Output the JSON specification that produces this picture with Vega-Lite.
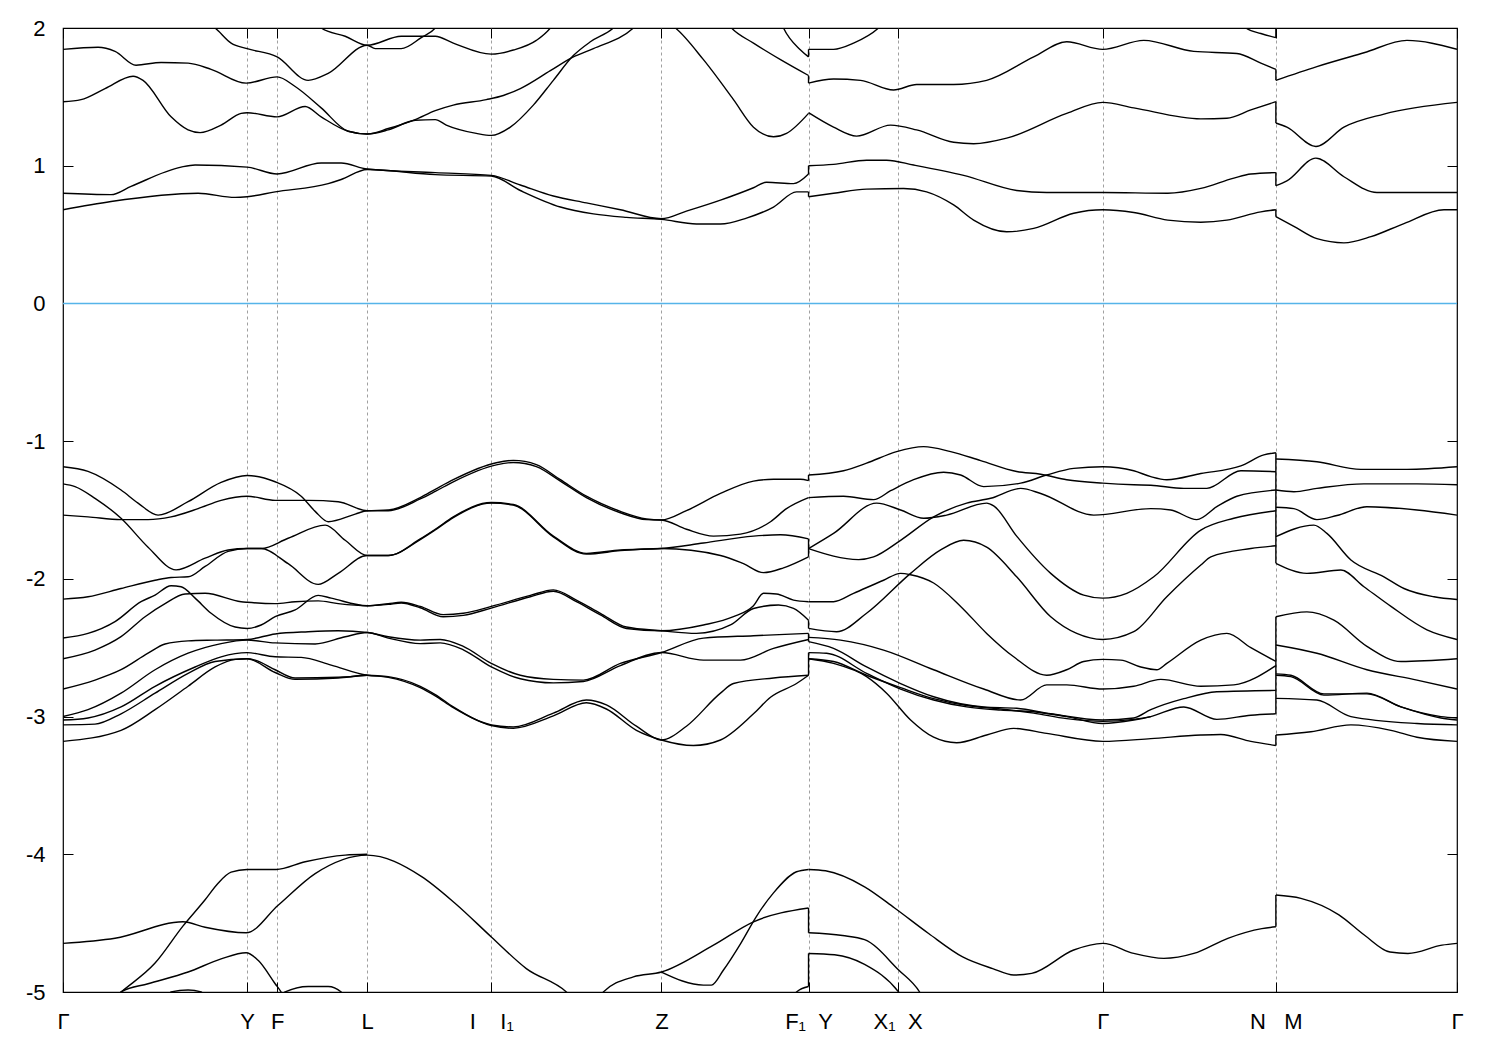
{
"$schema":"https://vega.github.io/schema/vega-lite/v6.json",
"width":1394,"height":964,
"autosize":{"type":"none"},
"padding":{"left":63,"top":28,"right":43,"bottom":58},
"background":"white",
"config":{"view":{"stroke":"black","strokeWidth":1.2},"axis":{"labelFont":"Liberation Sans Narrow, Liberation Sans","labelFontSize":22,"labelColor":"black","tickColor":"black","tickWidth":1,"domain":false}},
"datasets":{
"bands":[
{"s":"cA1","k":0,"e":0.68},{"s":"cA1","k":0.48,"e":0.74},{"s":"cA1","k":1.35,"e":0.80},{"s":"cA1","k":1.72,"e":0.77},{"s":"cA1","k":1.84,"e":0.775},{"s":"cA1","k":2.12,"e":0.81},{"s":"cA1","k":2.65,"e":0.87},{"s":"cA1","k":2.78,"e":0.90},{"s":"cA1","k":3.04,"e":0.972},{"s":"cA1","k":3.72,"e":0.935},{"s":"cA1","k":4.28,"e":0.925},{"s":"cA1","k":4.57,"e":0.82},{"s":"cA1","k":4.97,"e":0.70},{"s":"cA1","k":5.30,"e":0.65},{"s":"cA1","k":5.63,"e":0.625},{"s":"cA1","k":5.98,"e":0.61},{"s":"cA1","k":6.33,"e":0.577},{"s":"cA1","k":6.57,"e":0.577},{"s":"cA1","k":6.83,"e":0.62},{"s":"cA1","k":7.10,"e":0.70},{"s":"cA1","k":7.33,"e":0.81},{"s":"cA1","k":7.45,"e":0.81},
{"s":"cA2","k":0,"e":0.80},{"s":"cA2","k":0.48,"e":0.79},{"s":"cA2","k":0.68,"e":0.85},{"s":"cA2","k":1.18,"e":0.99},{"s":"cA2","k":1.32,"e":1.005},{"s":"cA2","k":1.84,"e":0.99},{"s":"cA2","k":2.14,"e":0.94},{"s":"cA2","k":2.58,"e":1.02},{"s":"cA2","k":2.78,"e":1.02},{"s":"cA2","k":3.04,"e":0.976},{"s":"cA2","k":3.72,"e":0.95},{"s":"cA2","k":4.28,"e":0.93},{"s":"cA2","k":4.57,"e":0.86},{"s":"cA2","k":4.90,"e":0.78},{"s":"cA2","k":5.23,"e":0.73},{"s":"cA2","k":5.57,"e":0.68},{"s":"cA2","k":5.98,"e":0.615},{"s":"cA2","k":6.23,"e":0.67},{"s":"cA2","k":6.57,"e":0.75},{"s":"cA2","k":6.90,"e":0.84},{"s":"cA2","k":7.03,"e":0.88},{"s":"cA2","k":7.30,"e":0.87},{"s":"cA2","k":7.45,"e":0.94},
{"s":"cA3","k":0,"e":1.465},{"s":"cA3","k":0.18,"e":1.48},{"s":"cA3","k":0.42,"e":1.56},{"s":"cA3","k":0.70,"e":1.65},{"s":"cA3","k":0.80,"e":1.62},{"s":"cA3","k":1.08,"e":1.355},{"s":"cA3","k":1.25,"e":1.26},{"s":"cA3","k":1.37,"e":1.24},{"s":"cA3","k":1.58,"e":1.295},{"s":"cA3","k":1.78,"e":1.38},{"s":"cA3","k":1.84,"e":1.385},{"s":"cA3","k":2.14,"e":1.355},{"s":"cA3","k":2.42,"e":1.43},{"s":"cA3","k":2.58,"e":1.355},{"s":"cA3","k":2.85,"e":1.25},{"s":"cA3","k":3.04,"e":1.23},{"s":"cA3","k":3.25,"e":1.26},{"s":"cA3","k":3.52,"e":1.33},{"s":"cA3","k":3.72,"e":1.335},{"s":"cA3","k":3.83,"e":1.295},{"s":"cA3","k":4.13,"e":1.235},{"s":"cA3","k":4.28,"e":1.22},{"s":"cA3","k":4.47,"e":1.28},{"s":"cA3","k":4.70,"e":1.44},{"s":"cA3","k":4.90,"e":1.62},{"s":"cA3","k":5.10,"e":1.80},{"s":"cA3","k":5.27,"e":1.90},{"s":"cA3","k":5.50,"e":2.0},{"s":"cA3","k":5.57,"e":2.05},
{"s":"cA4","k":0,"e":1.845},{"s":"cA4","k":0.35,"e":1.86},{"s":"cA4","k":0.52,"e":1.83},{"s":"cA4","k":0.73,"e":1.73},{"s":"cA4","k":0.98,"e":1.75},{"s":"cA4","k":1.25,"e":1.745},{"s":"cA4","k":1.48,"e":1.70},{"s":"cA4","k":1.83,"e":1.60},{"s":"cA4","k":2.14,"e":1.645},{"s":"cA4","k":2.32,"e":1.575},{"s":"cA4","k":2.58,"e":1.42},{"s":"cA4","k":2.85,"e":1.25},{"s":"cA4","k":3.04,"e":1.23},{"s":"cA4","k":3.25,"e":1.27},{"s":"cA4","k":3.52,"e":1.335},{"s":"cA4","k":3.72,"e":1.40},{"s":"cA4","k":3.90,"e":1.44},{"s":"cA4","k":4.23,"e":1.48},{"s":"cA4","k":4.40,"e":1.51},{"s":"cA4","k":4.57,"e":1.56},{"s":"cA4","k":4.87,"e":1.69},{"s":"cA4","k":5.10,"e":1.79},{"s":"cA4","k":5.30,"e":1.85},{"s":"cA4","k":5.70,"e":2.0},{"s":"cA4","k":5.77,"e":2.05},
{"s":"cA5","k":1.42,"e":2.05},{"s":"cA5","k":1.52,"e":2.0},{"s":"cA5","k":1.68,"e":1.89},{"s":"cA5","k":1.84,"e":1.85},{"s":"cA5","k":2.14,"e":1.79},{"s":"cA5","k":2.45,"e":1.62},{"s":"cA5","k":2.65,"e":1.67},{"s":"cA5","k":3.04,"e":1.875},{"s":"cA5","k":3.12,"e":1.85},{"s":"cA5","k":3.38,"e":1.85},{"s":"cA5","k":3.58,"e":1.93},{"s":"cA5","k":3.72,"e":2.0},{"s":"cA5","k":3.77,"e":2.05},
{"s":"cA6","k":2.52,"e":2.05},{"s":"cA6","k":2.58,"e":2.0},{"s":"cA6","k":2.82,"e":1.94},{"s":"cA6","k":3.04,"e":1.875},{"s":"cA6","k":3.38,"e":1.94},{"s":"cA6","k":3.72,"e":1.94},{"s":"cA6","k":3.90,"e":1.89},{"s":"cA6","k":4.28,"e":1.81},{"s":"cA6","k":4.50,"e":1.84},{"s":"cA6","k":4.73,"e":1.91},{"s":"cA6","k":4.87,"e":2.0},{"s":"cA6","k":4.92,"e":2.05},
{"s":"cA7","k":6.02,"e":2.05},{"s":"cA7","k":6.12,"e":2.0},{"s":"cA7","k":6.40,"e":1.77},{"s":"cA7","k":6.70,"e":1.48},{"s":"cA7","k":6.90,"e":1.28},{"s":"cA7","k":7.10,"e":1.21},{"s":"cA7","k":7.23,"e":1.235},{"s":"cA7","k":7.45,"e":1.38},
{"s":"cA8","k":6.62,"e":2.05},{"s":"cA8","k":6.68,"e":2.0},{"s":"cA8","k":6.90,"e":1.89},{"s":"cA8","k":7.17,"e":1.77},{"s":"cA8","k":7.45,"e":1.655},
{"s":"cA9","k":7.17,"e":2.05},{"s":"cA9","k":7.20,"e":2.0},{"s":"cA9","k":7.37,"e":1.84},{"s":"cA9","k":7.45,"e":1.79},
{"s":"cB1","k":7.45,"e":0.775},{"s":"cB1","k":7.70,"e":0.80},{"s":"cB1","k":8.03,"e":0.83},{"s":"cB1","k":8.40,"e":0.835},{"s":"cB1","k":8.63,"e":0.81},{"s":"cB1","k":8.90,"e":0.715},{"s":"cB1","k":9.10,"e":0.605},{"s":"cB1","k":9.43,"e":0.52},{"s":"cB1","k":9.70,"e":0.545},{"s":"cB1","k":10.10,"e":0.655},{"s":"cB1","k":10.39,"e":0.68},{"s":"cB1","k":10.70,"e":0.66},{"s":"cB1","k":11.04,"e":0.605},{"s":"cB1","k":11.37,"e":0.59},{"s":"cB1","k":11.63,"e":0.605},{"s":"cB1","k":11.97,"e":0.665},{"s":"cB1","k":12.12,"e":0.68},
{"s":"cB2","k":7.45,"e":1.00},{"s":"cB2","k":7.70,"e":1.01},{"s":"cB2","k":8.03,"e":1.04},{"s":"cB2","k":8.23,"e":1.04},{"s":"cB2","k":8.50,"e":1.005},{"s":"cB2","k":9.00,"e":0.93},{"s":"cB2","k":9.53,"e":0.82},{"s":"cB2","k":9.83,"e":0.805},{"s":"cB2","k":10.39,"e":0.805},{"s":"cB2","k":11.04,"e":0.80},{"s":"cB2","k":11.37,"e":0.835},{"s":"cB2","k":11.70,"e":0.91},{"s":"cB2","k":11.87,"e":0.94},{"s":"cB2","k":12.12,"e":0.95},
{"s":"cB3","k":7.45,"e":1.385},{"s":"cB3","k":7.70,"e":1.28},{"s":"cB3","k":7.93,"e":1.215},{"s":"cB3","k":8.27,"e":1.295},{"s":"cB3","k":8.53,"e":1.26},{"s":"cB3","k":8.90,"e":1.17},{"s":"cB3","k":9.10,"e":1.16},{"s":"cB3","k":9.43,"e":1.20},{"s":"cB3","k":10.03,"e":1.38},{"s":"cB3","k":10.39,"e":1.46},{"s":"cB3","k":10.70,"e":1.42},{"s":"cB3","k":11.37,"e":1.34},{"s":"cB3","k":11.63,"e":1.345},{"s":"cB3","k":11.87,"e":1.405},{"s":"cB3","k":12.12,"e":1.465},
{"s":"cB4","k":7.45,"e":1.60},{"s":"cB4","k":7.70,"e":1.63},{"s":"cB4","k":7.97,"e":1.62},{"s":"cB4","k":8.30,"e":1.55},{"s":"cB4","k":8.53,"e":1.59},{"s":"cB4","k":8.90,"e":1.59},{"s":"cB4","k":9.23,"e":1.62},{"s":"cB4","k":9.70,"e":1.79},{"s":"cB4","k":10.03,"e":1.90},{"s":"cB4","k":10.39,"e":1.845},{"s":"cB4","k":10.80,"e":1.91},{"s":"cB4","k":11.30,"e":1.83},{"s":"cB4","k":11.73,"e":1.815},{"s":"cB4","k":11.97,"e":1.745},{"s":"cB4","k":12.12,"e":1.70},
{"s":"cB5","k":7.45,"e":1.845},{"s":"cB5","k":7.70,"e":1.845},{"s":"cB5","k":7.90,"e":1.89},{"s":"cB5","k":8.15,"e":2.0},{"s":"cB5","k":8.22,"e":2.05},
{"s":"cB6","k":11.77,"e":2.05},{"s":"cB6","k":11.82,"e":2.0},{"s":"cB6","k":11.97,"e":1.96},{"s":"cB6","k":12.12,"e":1.93},
{"s":"cC1","k":12.12,"e":0.63},{"s":"cC1","k":12.30,"e":0.56},{"s":"cC1","k":12.53,"e":0.47},{"s":"cC1","k":12.80,"e":0.44},{"s":"cC1","k":13.07,"e":0.485},{"s":"cC1","k":13.40,"e":0.58},{"s":"cC1","k":13.80,"e":0.68},{"s":"cC1","k":13.93,"e":0.68},
{"s":"cC2","k":12.12,"e":0.855},{"s":"cC2","k":12.23,"e":0.89},{"s":"cC2","k":12.52,"e":1.055},{"s":"cC2","k":12.80,"e":0.92},{"s":"cC2","k":13.13,"e":0.805},{"s":"cC2","k":13.93,"e":0.805},
{"s":"cC3","k":12.12,"e":1.31},{"s":"cC3","k":12.23,"e":1.28},{"s":"cC3","k":12.52,"e":1.14},{"s":"cC3","k":12.80,"e":1.28},{"s":"cC3","k":13.20,"e":1.375},{"s":"cC3","k":13.93,"e":1.46},
{"s":"cC4","k":12.12,"e":1.62},{"s":"cC4","k":12.53,"e":1.72},{"s":"cC4","k":13.00,"e":1.82},{"s":"cC4","k":13.43,"e":1.91},{"s":"cC4","k":13.93,"e":1.845},
{"s":"vA1","k":0,"e":-1.186},{"s":"vA1","k":0.25,"e":-1.22},{"s":"vA1","k":0.58,"e":-1.355},{"s":"vA1","k":0.75,"e":-1.45},{"s":"vA1","k":0.95,"e":-1.537},{"s":"vA1","k":1.25,"e":-1.44},{"s":"vA1","k":1.58,"e":-1.30},{"s":"vA1","k":1.84,"e":-1.25},{"s":"vA1","k":2.12,"e":-1.295},{"s":"vA1","k":2.38,"e":-1.40},{"s":"vA1","k":2.52,"e":-1.51},{"s":"vA1","k":2.65,"e":-1.585},{"s":"vA1","k":2.92,"e":-1.53},{"s":"vA1","k":3.04,"e":-1.505},{"s":"vA1","k":3.25,"e":-1.50},{"s":"vA1","k":3.57,"e":-1.41},{"s":"vA1","k":3.72,"e":-1.35},{"s":"vA1","k":3.90,"e":-1.28},{"s":"vA1","k":4.33,"e":-1.157},{"s":"vA1","k":4.50,"e":-1.14},{"s":"vA1","k":4.73,"e":-1.17},{"s":"vA1","k":4.97,"e":-1.28},{"s":"vA1","k":5.23,"e":-1.40},{"s":"vA1","k":5.57,"e":-1.51},{"s":"vA1","k":5.83,"e":-1.565},{"s":"vA1","k":5.98,"e":-1.573},{"s":"vA1","k":6.23,"e":-1.505},{"s":"vA1","k":6.57,"e":-1.38},{"s":"vA1","k":6.90,"e":-1.29},{"s":"vA1","k":7.10,"e":-1.277},{"s":"vA1","k":7.37,"e":-1.277},{"s":"vA1","k":7.45,"e":-1.287},
{"s":"vA3","k":0,"e":-1.537},{"s":"vA3","k":0.25,"e":-1.55},{"s":"vA3","k":0.58,"e":-1.57},{"s":"vA3","k":0.85,"e":-1.57},{"s":"vA3","k":1.08,"e":-1.55},{"s":"vA3","k":1.35,"e":-1.49},{"s":"vA3","k":1.58,"e":-1.43},{"s":"vA3","k":1.84,"e":-1.40},{"s":"vA3","k":2.12,"e":-1.43},{"s":"vA3","k":2.45,"e":-1.43},{"s":"vA3","k":2.75,"e":-1.44},{"s":"vA3","k":3.04,"e":-1.505},{"s":"vA3","k":3.25,"e":-1.505},{"s":"vA3","k":3.57,"e":-1.42},{"s":"vA3","k":3.72,"e":-1.365},{"s":"vA3","k":3.90,"e":-1.295},{"s":"vA3","k":4.33,"e":-1.172},{"s":"vA3","k":4.50,"e":-1.155},{"s":"vA3","k":4.73,"e":-1.185},{"s":"vA3","k":4.97,"e":-1.29},{"s":"vA3","k":5.23,"e":-1.41},{"s":"vA3","k":5.57,"e":-1.52},{"s":"vA3","k":5.83,"e":-1.57},{"s":"vA3","k":5.98,"e":-1.573},{"s":"vA3","k":6.23,"e":-1.64},{"s":"vA3","k":6.50,"e":-1.69},{"s":"vA3","k":6.77,"e":-1.675},{"s":"vA3","k":7.07,"e":-1.585},{"s":"vA3","k":7.23,"e":-1.49},{"s":"vA3","k":7.45,"e":-1.41},
{"s":"vA2","k":0,"e":-1.31},{"s":"vA2","k":0.12,"e":-1.33},{"s":"vA2","k":0.32,"e":-1.415},{"s":"vA2","k":0.58,"e":-1.56},{"s":"vA2","k":0.85,"e":-1.77},{"s":"vA2","k":1.13,"e":-1.935},{"s":"vA2","k":1.42,"e":-1.85},{"s":"vA2","k":1.65,"e":-1.79},{"s":"vA2","k":1.84,"e":-1.78},{"s":"vA2","k":1.98,"e":-1.78},{"s":"vA2","k":2.25,"e":-1.89},{"s":"vA2","k":2.55,"e":-2.04},{"s":"vA2","k":2.75,"e":-1.96},{"s":"vA2","k":3.04,"e":-1.83},{"s":"vA2","k":3.25,"e":-1.83},{"s":"vA2","k":3.57,"e":-1.71},{"s":"vA2","k":3.72,"e":-1.64},{"s":"vA2","k":3.90,"e":-1.55},{"s":"vA2","k":4.28,"e":-1.445},{"s":"vA2","k":4.50,"e":-1.46},{"s":"vA2","k":4.90,"e":-1.69},{"s":"vA2","k":5.23,"e":-1.815},{"s":"vA2","k":5.57,"e":-1.79},{"s":"vA2","k":5.98,"e":-1.78},{"s":"vA2","k":6.40,"e":-1.74},{"s":"vA2","k":6.90,"e":-1.69},{"s":"vA2","k":7.17,"e":-1.68},{"s":"vA2","k":7.45,"e":-1.71},
{"s":"vA4","k":0,"e":-2.147},{"s":"vA4","k":0.25,"e":-2.13},{"s":"vA4","k":0.58,"e":-2.07},{"s":"vA4","k":0.92,"e":-2.01},{"s":"vA4","k":1.08,"e":-1.99},{"s":"vA4","k":1.25,"e":-1.985},{"s":"vA4","k":1.42,"e":-1.91},{"s":"vA4","k":1.65,"e":-1.80},{"s":"vA4","k":1.84,"e":-1.78},{"s":"vA4","k":1.98,"e":-1.78},{"s":"vA4","k":2.25,"e":-1.705},{"s":"vA4","k":2.62,"e":-1.61},{"s":"vA4","k":2.82,"e":-1.72},{"s":"vA4","k":3.04,"e":-1.83},{"s":"vA4","k":3.25,"e":-1.83},{"s":"vA4","k":3.57,"e":-1.715},{"s":"vA4","k":3.72,"e":-1.645},{"s":"vA4","k":3.90,"e":-1.555},{"s":"vA4","k":4.28,"e":-1.45},{"s":"vA4","k":4.50,"e":-1.465},{"s":"vA4","k":4.90,"e":-1.695},{"s":"vA4","k":5.23,"e":-1.82},{"s":"vA4","k":5.57,"e":-1.795},{"s":"vA4","k":5.98,"e":-1.78},{"s":"vA4","k":6.57,"e":-1.83},{"s":"vA4","k":6.80,"e":-1.89},{"s":"vA4","k":7.00,"e":-1.955},{"s":"vA4","k":7.20,"e":-1.92},{"s":"vA4","k":7.45,"e":-1.84},
{"s":"vA5","k":0,"e":-2.43},{"s":"vA5","k":0.25,"e":-2.396},{"s":"vA5","k":0.52,"e":-2.31},{"s":"vA5","k":0.78,"e":-2.166},{"s":"vA5","k":0.92,"e":-2.118},{"s":"vA5","k":1.08,"e":-2.05},{"s":"vA5","k":1.18,"e":-2.057},{"s":"vA5","k":1.32,"e":-2.14},{"s":"vA5","k":1.48,"e":-2.25},{"s":"vA5","k":1.72,"e":-2.35},{"s":"vA5","k":1.84,"e":-2.36},{"s":"vA5","k":1.98,"e":-2.335},{"s":"vA5","k":2.12,"e":-2.275},{"s":"vA5","k":2.32,"e":-2.226},{"s":"vA5","k":2.55,"e":-2.12},{"s":"vA5","k":2.68,"e":-2.14},{"s":"vA5","k":3.04,"e":-2.195},{"s":"vA5","k":3.25,"e":-2.18},{"s":"vA5","k":3.38,"e":-2.17},{"s":"vA5","k":3.57,"e":-2.20},{"s":"vA5","k":3.80,"e":-2.26},{"s":"vA5","k":4.00,"e":-2.25},{"s":"vA5","k":4.28,"e":-2.20},{"s":"vA5","k":4.67,"e":-2.12},{"s":"vA5","k":4.90,"e":-2.08},{"s":"vA5","k":5.13,"e":-2.154},{"s":"vA5","k":5.37,"e":-2.25},{"s":"vA5","k":5.63,"e":-2.35},{"s":"vA5","k":5.98,"e":-2.377},{"s":"vA5","k":6.33,"e":-2.396},{"s":"vA5","k":6.67,"e":-2.335},{"s":"vA5","k":6.90,"e":-2.215},{"s":"vA5","k":7.15,"e":-2.19},{"s":"vA5","k":7.30,"e":-2.215},{"s":"vA5","k":7.45,"e":-2.30},
{"s":"vA6","k":0,"e":-2.58},{"s":"vA6","k":0.32,"e":-2.517},{"s":"vA6","k":0.58,"e":-2.42},{"s":"vA6","k":0.82,"e":-2.275},{"s":"vA6","k":1.02,"e":-2.18},{"s":"vA6","k":1.22,"e":-2.11},{"s":"vA6","k":1.42,"e":-2.105},{"s":"vA6","k":1.78,"e":-2.166},{"s":"vA6","k":1.84,"e":-2.17},{"s":"vA6","k":2.12,"e":-2.18},{"s":"vA6","k":2.32,"e":-2.166},{"s":"vA6","k":2.55,"e":-2.16},{"s":"vA6","k":2.75,"e":-2.18},{"s":"vA6","k":3.04,"e":-2.195},{"s":"vA6","k":3.25,"e":-2.185},{"s":"vA6","k":3.38,"e":-2.175},{"s":"vA6","k":3.57,"e":-2.21},{"s":"vA6","k":3.80,"e":-2.275},{"s":"vA6","k":4.00,"e":-2.265},{"s":"vA6","k":4.28,"e":-2.212},{"s":"vA6","k":4.67,"e":-2.13},{"s":"vA6","k":4.90,"e":-2.09},{"s":"vA6","k":5.13,"e":-2.165},{"s":"vA6","k":5.37,"e":-2.262},{"s":"vA6","k":5.63,"e":-2.36},{"s":"vA6","k":5.98,"e":-2.377},{"s":"vA6","k":6.40,"e":-2.335},{"s":"vA6","k":6.70,"e":-2.275},{"s":"vA6","k":6.90,"e":-2.195},{"s":"vA6","k":7.00,"e":-2.105},{"s":"vA6","k":7.13,"e":-2.11},{"s":"vA6","k":7.30,"e":-2.154},{"s":"vA6","k":7.45,"e":-2.166},
{"s":"vA7","k":0,"e":-2.80},{"s":"vA7","k":0.32,"e":-2.735},{"s":"vA7","k":0.58,"e":-2.66},{"s":"vA7","k":0.85,"e":-2.54},{"s":"vA7","k":1.02,"e":-2.473},{"s":"vA7","k":1.25,"e":-2.45},{"s":"vA7","k":1.52,"e":-2.445},{"s":"vA7","k":1.84,"e":-2.44},{"s":"vA7","k":2.12,"e":-2.40},{"s":"vA7","k":2.45,"e":-2.384},{"s":"vA7","k":2.75,"e":-2.377},{"s":"vA7","k":3.04,"e":-2.39},{"s":"vA7","k":3.25,"e":-2.42},{"s":"vA7","k":3.57,"e":-2.445},{"s":"vA7","k":3.77,"e":-2.44},{"s":"vA7","k":4.00,"e":-2.49},{"s":"vA7","k":4.28,"e":-2.614},{"s":"vA7","k":4.57,"e":-2.70},{"s":"vA7","k":4.90,"e":-2.73},{"s":"vA7","k":5.20,"e":-2.735},{"s":"vA7","k":5.57,"e":-2.614},{"s":"vA7","k":5.98,"e":-2.535},{"s":"vA7","k":6.40,"e":-2.43},{"s":"vA7","k":6.90,"e":-2.413},{"s":"vA7","k":7.45,"e":-2.396},
{"s":"vA8","k":0,"e":-3.00},{"s":"vA8","k":0.25,"e":-2.95},{"s":"vA8","k":0.58,"e":-2.83},{"s":"vA8","k":0.92,"e":-2.66},{"s":"vA8","k":1.25,"e":-2.54},{"s":"vA8","k":1.58,"e":-2.47},{"s":"vA8","k":1.84,"e":-2.445},{"s":"vA8","k":2.12,"e":-2.465},{"s":"vA8","k":2.52,"e":-2.473},{"s":"vA8","k":2.82,"e":-2.42},{"s":"vA8","k":3.04,"e":-2.39},{"s":"vA8","k":3.25,"e":-2.43},{"s":"vA8","k":3.57,"e":-2.47},{"s":"vA8","k":3.77,"e":-2.465},{"s":"vA8","k":4.00,"e":-2.515},{"s":"vA8","k":4.28,"e":-2.64},{"s":"vA8","k":4.57,"e":-2.725},{"s":"vA8","k":4.90,"e":-2.755},{"s":"vA8","k":5.20,"e":-2.745},{"s":"vA8","k":5.57,"e":-2.63},{"s":"vA8","k":5.98,"e":-2.535},{"s":"vA8","k":6.40,"e":-2.59},{"s":"vA8","k":6.77,"e":-2.59},{"s":"vA8","k":7.10,"e":-2.505},{"s":"vA8","k":7.45,"e":-2.44},
{"s":"vA9","k":0,"e":-3.025},{"s":"vA9","k":0.25,"e":-3.01},{"s":"vA9","k":0.58,"e":-2.93},{"s":"vA9","k":0.92,"e":-2.78},{"s":"vA9","k":1.32,"e":-2.64},{"s":"vA9","k":1.58,"e":-2.566},{"s":"vA9","k":1.84,"e":-2.536},{"s":"vA9","k":2.12,"e":-2.566},{"s":"vA9","k":2.38,"e":-2.57},{"s":"vA9","k":2.68,"e":-2.626},{"s":"vA9","k":3.04,"e":-2.70},{"s":"vA9","k":3.25,"e":-2.71},{"s":"vA9","k":3.57,"e":-2.78},{"s":"vA9","k":3.72,"e":-2.84},{"s":"vA9","k":3.90,"e":-2.93},{"s":"vA9","k":4.28,"e":-3.06},{"s":"vA9","k":4.50,"e":-3.075},{"s":"vA9","k":4.90,"e":-2.975},{"s":"vA9","k":5.23,"e":-2.88},{"s":"vA9","k":5.43,"e":-2.915},{"s":"vA9","k":5.73,"e":-3.07},{"s":"vA9","k":5.98,"e":-3.17},{"s":"vA9","k":6.23,"e":-3.07},{"s":"vA9","k":6.57,"e":-2.83},{"s":"vA9","k":6.70,"e":-2.76},{"s":"vA9","k":7.10,"e":-2.72},{"s":"vA9","k":7.45,"e":-2.70},
{"s":"vA10","k":0,"e":-3.06},{"s":"vA10","k":0.32,"e":-3.055},{"s":"vA10","k":0.58,"e":-2.98},{"s":"vA10","k":0.92,"e":-2.83},{"s":"vA10","k":1.25,"e":-2.686},{"s":"vA10","k":1.52,"e":-2.60},{"s":"vA10","k":1.84,"e":-2.58},{"s":"vA10","k":2.12,"e":-2.68},{"s":"vA10","k":2.32,"e":-2.73},{"s":"vA10","k":2.75,"e":-2.72},{"s":"vA10","k":3.04,"e":-2.70},{"s":"vA10","k":3.25,"e":-2.715},{"s":"vA10","k":3.57,"e":-2.79},{"s":"vA10","k":3.72,"e":-2.85},{"s":"vA10","k":3.90,"e":-2.935},{"s":"vA10","k":4.28,"e":-3.065},{"s":"vA10","k":4.50,"e":-3.085},{"s":"vA10","k":4.90,"e":-2.995},{"s":"vA10","k":5.23,"e":-2.90},{"s":"vA10","k":5.43,"e":-2.945},{"s":"vA10","k":5.73,"e":-3.10},{"s":"vA10","k":5.98,"e":-3.17},{"s":"vA10","k":6.30,"e":-3.21},{"s":"vA10","k":6.57,"e":-3.17},{"s":"vA10","k":6.90,"e":-2.98},{"s":"vA10","k":7.07,"e":-2.86},{"s":"vA10","k":7.33,"e":-2.76},{"s":"vA10","k":7.45,"e":-2.70},
{"s":"vA11","k":0,"e":-3.18},{"s":"vA11","k":0.58,"e":-3.10},{"s":"vA11","k":0.92,"e":-2.95},{"s":"vA11","k":1.25,"e":-2.78},{"s":"vA11","k":1.52,"e":-2.64},{"s":"vA11","k":1.72,"e":-2.585},{"s":"vA11","k":1.84,"e":-2.58},{"s":"vA11","k":1.92,"e":-2.59},{"s":"vA11","k":2.12,"e":-2.66},{"s":"vA11","k":2.32,"e":-2.72},{"s":"vA11","k":2.75,"e":-2.715},{"s":"vA11","k":3.04,"e":-2.70},
{"s":"vB1","k":7.45,"e":-1.246},{"s":"vB1","k":7.80,"e":-1.215},{"s":"vB1","k":8.03,"e":-1.16},{"s":"vB1","k":8.33,"e":-1.076},{"s":"vB1","k":8.60,"e":-1.04},{"s":"vB1","k":8.87,"e":-1.076},{"s":"vB1","k":9.17,"e":-1.141},{"s":"vB1","k":9.53,"e":-1.22},{"s":"vB1","k":9.77,"e":-1.24},{"s":"vB1","k":10.03,"e":-1.28},{"s":"vB1","k":10.39,"e":-1.305},{"s":"vB1","k":10.70,"e":-1.317},{"s":"vB1","k":10.87,"e":-1.32},{"s":"vB1","k":11.20,"e":-1.343},{"s":"vB1","k":11.43,"e":-1.343},{"s":"vB1","k":11.77,"e":-1.215},{"s":"vB1","k":12.12,"e":-1.222},
{"s":"vB2","k":7.45,"e":-1.41},{"s":"vB2","k":7.80,"e":-1.40},{"s":"vB2","k":8.10,"e":-1.425},{"s":"vB2","k":8.27,"e":-1.36},{"s":"vB2","k":8.50,"e":-1.28},{"s":"vB2","k":8.80,"e":-1.226},{"s":"vB2","k":8.97,"e":-1.246},{"s":"vB2","k":9.20,"e":-1.33},{"s":"vB2","k":9.57,"e":-1.305},{"s":"vB2","k":9.83,"e":-1.246},{"s":"vB2","k":10.10,"e":-1.198},{"s":"vB2","k":10.39,"e":-1.186},{"s":"vB2","k":10.70,"e":-1.215},{"s":"vB2","k":10.87,"e":-1.258},{"s":"vB2","k":11.03,"e":-1.28},{"s":"vB2","k":11.37,"e":-1.235},{"s":"vB2","k":11.77,"e":-1.18},{"s":"vB2","k":12.00,"e":-1.10},{"s":"vB2","k":12.12,"e":-1.084},
{"s":"vB3","k":7.45,"e":-1.78},{"s":"vB3","k":7.70,"e":-1.67},{"s":"vB3","k":8.13,"e":-1.45},{"s":"vB3","k":8.37,"e":-1.50},{"s":"vB3","k":8.60,"e":-1.56},{"s":"vB3","k":8.83,"e":-1.537},{"s":"vB3","k":9.23,"e":-1.45},{"s":"vB3","k":9.30,"e":-1.47},{"s":"vB3","k":9.53,"e":-1.69},{"s":"vB3","k":9.87,"e":-1.96},{"s":"vB3","k":10.20,"e":-2.118},{"s":"vB3","k":10.39,"e":-2.14},{"s":"vB3","k":10.63,"e":-2.105},{"s":"vB3","k":10.90,"e":-1.985},{"s":"vB3","k":11.37,"e":-1.646},{"s":"vB3","k":11.70,"e":-1.56},{"s":"vB3","k":12.12,"e":-1.505},
{"s":"vB4","k":7.45,"e":-1.78},{"s":"vB4","k":7.95,"e":-1.86},{"s":"vB4","k":8.10,"e":-1.84},{"s":"vB4","k":8.37,"e":-1.72},{"s":"vB4","k":8.70,"e":-1.55},{"s":"vB4","k":9.03,"e":-1.45},{"s":"vB4","k":9.27,"e":-1.415},{"s":"vB4","k":9.57,"e":-1.343},{"s":"vB4","k":9.77,"e":-1.38},{"s":"vB4","k":10.30,"e":-1.537},{"s":"vB4","k":10.87,"e":-1.49},{"s":"vB4","k":11.07,"e":-1.50},{"s":"vB4","k":11.33,"e":-1.57},{"s":"vB4","k":11.53,"e":-1.476},{"s":"vB4","k":11.73,"e":-1.40},{"s":"vB4","k":12.12,"e":-1.355},
{"s":"vB5","k":7.45,"e":-2.166},{"s":"vB5","k":7.70,"e":-2.166},{"s":"vB5","k":7.90,"e":-2.105},{"s":"vB5","k":8.20,"e":-2.01},{"s":"vB5","k":8.37,"e":-1.96},{"s":"vB5","k":8.47,"e":-1.97},{"s":"vB5","k":8.70,"e":-2.03},{"s":"vB5","k":8.97,"e":-2.20},{"s":"vB5","k":9.23,"e":-2.396},{"s":"vB5","k":9.50,"e":-2.566},{"s":"vB5","k":9.83,"e":-2.70},{"s":"vB5","k":10.03,"e":-2.66},{"s":"vB5","k":10.20,"e":-2.60},{"s":"vB5","k":10.39,"e":-2.585},{"s":"vB5","k":10.57,"e":-2.59},{"s":"vB5","k":10.77,"e":-2.64},{"s":"vB5","k":10.93,"e":-2.66},{"s":"vB5","k":11.03,"e":-2.614},{"s":"vB5","k":11.37,"e":-2.445},{"s":"vB5","k":11.63,"e":-2.396},{"s":"vB5","k":11.87,"e":-2.50},{"s":"vB5","k":12.12,"e":-2.60},
{"s":"vB6","k":7.45,"e":-2.36},{"s":"vB6","k":7.73,"e":-2.384},{"s":"vB6","k":8.03,"e":-2.25},{"s":"vB6","k":8.47,"e":-1.96},{"s":"vB6","k":8.77,"e":-1.79},{"s":"vB6","k":9.00,"e":-1.72},{"s":"vB6","k":9.23,"e":-1.77},{"s":"vB6","k":9.53,"e":-1.985},{"s":"vB6","k":9.87,"e":-2.275},{"s":"vB6","k":10.13,"e":-2.396},{"s":"vB6","k":10.39,"e":-2.44},{"s":"vB6","k":10.70,"e":-2.384},{"s":"vB6","k":11.03,"e":-2.13},{"s":"vB6","k":11.37,"e":-1.90},{"s":"vB6","k":11.47,"e":-1.84},{"s":"vB6","k":11.87,"e":-1.78},{"s":"vB6","k":12.12,"e":-1.76},
{"s":"vB7","k":7.45,"e":-2.425},{"s":"vB7","k":7.77,"e":-2.445},{"s":"vB7","k":8.20,"e":-2.517},{"s":"vB7","k":8.70,"e":-2.66},{"s":"vB7","k":9.20,"e":-2.80},{"s":"vB7","k":9.57,"e":-2.88},{"s":"vB7","k":9.83,"e":-2.77},{"s":"vB7","k":10.03,"e":-2.77},{"s":"vB7","k":10.39,"e":-2.80},{"s":"vB7","k":10.70,"e":-2.78},{"s":"vB7","k":10.97,"e":-2.73},{"s":"vB7","k":11.37,"e":-2.78},{"s":"vB7","k":11.70,"e":-2.77},{"s":"vB7","k":12.12,"e":-2.63},
{"s":"vB8","k":7.45,"e":-2.456},{"s":"vB8","k":7.70,"e":-2.505},{"s":"vB8","k":8.03,"e":-2.64},{"s":"vB8","k":8.37,"e":-2.76},{"s":"vB8","k":8.70,"e":-2.856},{"s":"vB8","k":9.20,"e":-2.93},{"s":"vB8","k":9.53,"e":-2.94},{"s":"vB8","k":9.87,"e":-2.98},{"s":"vB8","k":10.39,"e":-3.025},{"s":"vB8","k":10.70,"e":-3.01},{"s":"vB8","k":10.87,"e":-2.95},{"s":"vB8","k":11.20,"e":-2.87},{"s":"vB8","k":11.53,"e":-2.82},{"s":"vB8","k":12.12,"e":-2.81},
{"s":"vB9","k":7.45,"e":-2.536},{"s":"vB9","k":7.63,"e":-2.54},{"s":"vB9","k":8.03,"e":-2.686},{"s":"vB9","k":8.37,"e":-2.80},{"s":"vB9","k":8.70,"e":-2.88},{"s":"vB9","k":9.03,"e":-2.93},{"s":"vB9","k":9.37,"e":-2.953},{"s":"vB9","k":9.70,"e":-2.965},{"s":"vB9","k":10.03,"e":-3.00},{"s":"vB9","k":10.39,"e":-3.05},{"s":"vB9","k":10.70,"e":-3.025},{"s":"vB9","k":10.87,"e":-3.00},{"s":"vB9","k":11.20,"e":-2.93},{"s":"vB9","k":11.53,"e":-3.02},{"s":"vB9","k":11.87,"e":-2.99},{"s":"vB9","k":12.12,"e":-2.98},
{"s":"vB10","k":7.45,"e":-2.58},{"s":"vB10","k":7.70,"e":-2.614},{"s":"vB10","k":8.03,"e":-2.71},{"s":"vB10","k":8.23,"e":-2.83},{"s":"vB10","k":8.47,"e":-3.025},{"s":"vB10","k":8.70,"e":-3.15},{"s":"vB10","k":8.93,"e":-3.19},{"s":"vB10","k":9.23,"e":-3.134},{"s":"vB10","k":9.50,"e":-3.086},{"s":"vB10","k":9.83,"e":-3.122},{"s":"vB10","k":10.39,"e":-3.18},{"s":"vB10","k":10.87,"e":-3.16},{"s":"vB10","k":11.37,"e":-3.134},{"s":"vB10","k":11.57,"e":-3.13},{"s":"vB10","k":11.87,"e":-3.18},{"s":"vB10","k":12.12,"e":-3.21},
{"s":"vB11","k":7.45,"e":-2.58},{"s":"vB11","k":7.70,"e":-2.60},{"s":"vB11","k":8.03,"e":-2.70},{"s":"vB11","k":8.37,"e":-2.79},{"s":"vB11","k":8.70,"e":-2.87},{"s":"vB11","k":9.03,"e":-2.92},{"s":"vB11","k":9.37,"e":-2.945},{"s":"vB11","k":9.70,"e":-2.975},{"s":"vB11","k":10.03,"e":-3.015},{"s":"vB11","k":10.39,"e":-3.035},{"s":"vB11","k":10.70,"e":-3.02},{"s":"vB11","k":10.87,"e":-3.00},
{"s":"vC1","k":12.12,"e":-1.13},{"s":"vC1","k":12.53,"e":-1.15},{"s":"vC1","k":12.97,"e":-1.205},{"s":"vC1","k":13.43,"e":-1.205},{"s":"vC1","k":13.93,"e":-1.186},
{"s":"vC2","k":12.12,"e":-1.355},{"s":"vC2","k":12.30,"e":-1.367},{"s":"vC2","k":12.53,"e":-1.343},{"s":"vC2","k":13.00,"e":-1.31},{"s":"vC2","k":13.53,"e":-1.31},{"s":"vC2","k":13.93,"e":-1.317},
{"s":"vC3","k":12.12,"e":-1.48},{"s":"vC3","k":12.30,"e":-1.49},{"s":"vC3","k":12.53,"e":-1.57},{"s":"vC3","k":12.73,"e":-1.54},{"s":"vC3","k":13.03,"e":-1.476},{"s":"vC3","k":13.53,"e":-1.50},{"s":"vC3","k":13.93,"e":-1.537},
{"s":"vC4","k":12.12,"e":-1.694},{"s":"vC4","k":12.50,"e":-1.61},{"s":"vC4","k":12.63,"e":-1.67},{"s":"vC4","k":12.87,"e":-1.863},{"s":"vC4","k":13.20,"e":-1.985},{"s":"vC4","k":13.40,"e":-2.07},{"s":"vC4","k":13.70,"e":-2.13},{"s":"vC4","k":13.93,"e":-2.15},
{"s":"vC5","k":12.12,"e":-1.887},{"s":"vC5","k":12.43,"e":-1.96},{"s":"vC5","k":12.77,"e":-1.936},{"s":"vC5","k":13.00,"e":-2.057},{"s":"vC5","k":13.27,"e":-2.20},{"s":"vC5","k":13.63,"e":-2.37},{"s":"vC5","k":13.93,"e":-2.44},
{"s":"vC6","k":12.12,"e":-2.275},{"s":"vC6","k":12.43,"e":-2.24},{"s":"vC6","k":12.70,"e":-2.30},{"s":"vC6","k":13.03,"e":-2.49},{"s":"vC6","k":13.37,"e":-2.60},{"s":"vC6","k":13.93,"e":-2.58},
{"s":"vC7","k":12.12,"e":-2.48},{"s":"vC7","k":12.53,"e":-2.54},{"s":"vC7","k":13.03,"e":-2.66},{"s":"vC7","k":13.53,"e":-2.735},{"s":"vC7","k":13.93,"e":-2.80},
{"s":"vC8","k":12.12,"e":-2.70},{"s":"vC8","k":12.27,"e":-2.71},{"s":"vC8","k":12.60,"e":-2.844},{"s":"vC8","k":13.03,"e":-2.83},{"s":"vC8","k":13.37,"e":-2.93},{"s":"vC8","k":13.77,"e":-3.00},{"s":"vC8","k":13.93,"e":-3.01},
{"s":"vC9","k":12.12,"e":-2.868},{"s":"vC9","k":12.53,"e":-2.88},{"s":"vC9","k":12.87,"e":-3.00},{"s":"vC9","k":13.53,"e":-3.05},{"s":"vC9","k":13.93,"e":-3.06},
{"s":"vC10","k":12.12,"e":-3.134},{"s":"vC10","k":12.47,"e":-3.11},{"s":"vC10","k":12.87,"e":-3.06},{"s":"vC10","k":13.27,"e":-3.10},{"s":"vC10","k":13.53,"e":-3.15},{"s":"vC10","k":13.93,"e":-3.18},
{"s":"vC11","k":12.12,"e":-2.69},{"s":"vC11","k":12.27,"e":-2.70},{"s":"vC11","k":12.60,"e":-2.835},{"s":"vC11","k":13.03,"e":-2.835},{"s":"vC11","k":13.37,"e":-2.93},{"s":"vC11","k":13.77,"e":-3.01},{"s":"vC11","k":13.93,"e":-3.025},
{"s":"lA1","k":0,"e":-4.647},{"s":"lA1","k":0.52,"e":-4.61},{"s":"lA1","k":1.20,"e":-4.49},{"s":"lA1","k":1.42,"e":-4.53},{"s":"lA1","k":1.83,"e":-4.57},{"s":"lA1","k":2.15,"e":-4.37},{"s":"lA1","k":2.52,"e":-4.14},{"s":"lA1","k":3.04,"e":-4.006},{"s":"lA1","k":3.58,"e":-4.16},{"s":"lA1","k":3.92,"e":-4.357},{"s":"lA1","k":4.28,"e":-4.60},{"s":"lA1","k":4.63,"e":-4.83},{"s":"lA1","k":5.03,"e":-5.0},{"s":"lA1","k":5.10,"e":-5.05},
{"s":"lA2","k":0.50,"e":-5.05},{"s":"lA2","k":0.584,"e":-4.998},{"s":"lA2","k":0.92,"e":-4.79},{"s":"lA2","k":1.20,"e":-4.52},{"s":"lA2","k":1.42,"e":-4.33},{"s":"lA2","k":1.55,"e":-4.21},{"s":"lA2","k":1.68,"e":-4.13},{"s":"lA2","k":1.84,"e":-4.11},{"s":"lA2","k":2.13,"e":-4.11},{"s":"lA2","k":2.42,"e":-4.054},{"s":"lA2","k":2.82,"e":-4.006},{"s":"lA2","k":3.04,"e":-4.0},
{"s":"lA3","k":0.50,"e":-5.05},{"s":"lA3","k":0.584,"e":-4.998},{"s":"lA3","k":0.85,"e":-4.94},{"s":"lA3","k":1.25,"e":-4.855},{"s":"lA3","k":1.58,"e":-4.76},{"s":"lA3","k":1.83,"e":-4.715},{"s":"lA3","k":1.95,"e":-4.77},{"s":"lA3","k":2.12,"e":-4.94},{"s":"lA3","k":2.18,"e":-5.0},{"s":"lA3","k":2.22,"e":-5.05},
{"s":"lA4","k":1.05,"e":-5.03},{"s":"lA4","k":1.08,"e":-5.0},{"s":"lA4","k":1.25,"e":-4.985},{"s":"lA4","k":1.38,"e":-5.0},{"s":"lA4","k":1.42,"e":-5.03},
{"s":"lA5","k":2.17,"e":-5.03},{"s":"lA5","k":2.22,"e":-5.0},{"s":"lA5","k":2.45,"e":-4.96},{"s":"lA5","k":2.65,"e":-4.96},{"s":"lA5","k":2.78,"e":-5.0},{"s":"lA5","k":2.82,"e":-5.03},
{"s":"lA6","k":5.34,"e":-5.05},{"s":"lA6","k":5.40,"e":-5.0},{"s":"lA6","k":5.70,"e":-4.89},{"s":"lA6","k":5.98,"e":-4.855},{"s":"lA6","k":6.50,"e":-4.66},{"s":"lA6","k":6.90,"e":-4.49},{"s":"lA6","k":7.45,"e":-4.39},
{"s":"lA7","k":5.98,"e":-4.855},{"s":"lA7","k":6.40,"e":-4.95},{"s":"lA7","k":6.48,"e":-4.95},{"s":"lA7","k":6.60,"e":-4.84},{"s":"lA7","k":6.77,"e":-4.65},{"s":"lA7","k":6.93,"e":-4.45},{"s":"lA7","k":7.10,"e":-4.28},{"s":"lA7","k":7.33,"e":-4.127},{"s":"lA7","k":7.45,"e":-4.11},
{"s":"lA8","k":7.28,"e":-5.05},{"s":"lA8","k":7.33,"e":-5.0},{"s":"lA8","k":7.45,"e":-4.96},
{"s":"lB1","k":7.45,"e":-4.11},{"s":"lB1","k":7.62,"e":-4.12},{"s":"lB1","k":8.01,"e":-4.236},{"s":"lB1","k":8.31,"e":-4.39},{"s":"lB1","k":8.65,"e":-4.575},{"s":"lB1","k":8.99,"e":-4.745},{"s":"lB1","k":9.29,"e":-4.83},{"s":"lB1","k":9.50,"e":-4.877},{"s":"lB1","k":9.68,"e":-4.865},{"s":"lB1","k":10.10,"e":-4.695},{"s":"lB1","k":10.39,"e":-4.647},{"s":"lB1","k":10.70,"e":-4.72},{"s":"lB1","k":11.00,"e":-4.756},{"s":"lB1","k":11.30,"e":-4.72},{"s":"lB1","k":11.64,"e":-4.61},{"s":"lB1","k":11.98,"e":-4.54},{"s":"lB1","k":12.12,"e":-4.526},
{"s":"lB2","k":7.45,"e":-4.57},{"s":"lB2","k":7.79,"e":-4.59},{"s":"lB2","k":8.01,"e":-4.62},{"s":"lB2","k":8.35,"e":-4.84},{"s":"lB2","k":8.56,"e":-5.0},{"s":"lB2","k":8.60,"e":-5.05},
{"s":"lB3","k":7.45,"e":-4.72},{"s":"lB3","k":7.71,"e":-4.73},{"s":"lB3","k":8.01,"e":-4.80},{"s":"lB3","k":8.35,"e":-5.0},{"s":"lB3","k":8.40,"e":-5.05},
{"s":"lC1","k":12.12,"e":-4.296},{"s":"lC1","k":12.37,"e":-4.32},{"s":"lC1","k":12.75,"e":-4.44},{"s":"lC1","k":13.01,"e":-4.59},{"s":"lC1","k":13.26,"e":-4.71},{"s":"lC1","k":13.44,"e":-4.72},{"s":"lC1","k":13.78,"e":-4.66},{"s":"lC1","k":13.93,"e":-4.647}
],
"jumps":[
{"s":"j1","k":7.45,"e":0.775},{"s":"j1","k":7.45,"e":0.81},
{"s":"j2","k":7.45,"e":0.94},{"s":"j2","k":7.45,"e":1.00},
{"s":"j4","k":7.45,"e":1.60},{"s":"j4","k":7.45,"e":1.655},
{"s":"j5","k":7.45,"e":1.79},{"s":"j5","k":7.45,"e":1.845},
{"s":"j6","k":7.45,"e":-1.287},{"s":"j6","k":7.45,"e":-1.246},
{"s":"j7","k":7.45,"e":-1.71},{"s":"j7","k":7.45,"e":-1.84},
{"s":"j9","k":7.45,"e":-2.30},{"s":"j9","k":7.45,"e":-2.36},
{"s":"j10","k":7.45,"e":-2.396},{"s":"j10","k":7.45,"e":-2.456},
{"s":"j12","k":7.45,"e":-2.70},{"s":"j12","k":7.45,"e":-2.536},
{"s":"j13","k":7.45,"e":-4.39},{"s":"j13","k":7.45,"e":-4.57},
{"s":"j14","k":7.45,"e":-4.96},{"s":"j14","k":7.45,"e":-4.72},
{"s":"j15","k":12.12,"e":0.68},{"s":"j15","k":12.12,"e":0.63},
{"s":"j16","k":12.12,"e":0.95},{"s":"j16","k":12.12,"e":0.855},
{"s":"j17","k":12.12,"e":1.465},{"s":"j17","k":12.12,"e":1.31},
{"s":"j18","k":12.12,"e":1.70},{"s":"j18","k":12.12,"e":1.62},
{"s":"j19","k":12.12,"e":1.93},{"s":"j19","k":12.12,"e":2.05},
{"s":"j20","k":12.12,"e":-1.084},{"s":"j20","k":12.12,"e":-1.887},
{"s":"j25","k":12.12,"e":-2.275},{"s":"j25","k":12.12,"e":-2.98},
{"s":"j26","k":12.12,"e":-3.134},{"s":"j26","k":12.12,"e":-3.21},
{"s":"j27","k":12.12,"e":-4.526},{"s":"j27","k":12.12,"e":-4.296}
]
},
"layer":[
{"data":{"name":"bands"},
 "mark":{"type":"line","color":"black","strokeWidth":1.4,"clip":true,"interpolate":"monotone"},
 "encoding":{
  "x":{"field":"k","type":"quantitative","scale":{"domain":[0,13.93],"nice":false,"zero":false},
       "axis":{"orient":"bottom","title":null,"values":[0,1.84,2.14,3.04,4.28,5.98,7.45,8.34,10.39,12.12,13.93],
        "labelExpr":"datum.value < 1 ? 'Γ' : datum.value < 2 ? 'Y' : datum.value < 2.5 ? 'F' : datum.value < 3.5 ? 'L' : datum.value < 5 ? 'I\u00a0\u00a0\u00a0\u00a0I₁' : datum.value < 7 ? 'Z' : datum.value < 8 ? 'F₁\u00a0\u00a0Y' : datum.value < 9 ? 'X₁\u00a0\u00a0X' : datum.value < 11 ? 'Γ' : datum.value < 13 ? 'N\u00a0\u00a0\u00a0M' : 'Γ'",
        "labelOverlap":false,"labelFlush":false,"labelBound":false,"labelPadding":29,"tickSize":-10,
        "grid":true,"gridColor":"#a0a0a0","gridDash":[3,3],"gridWidth":1,
        "gridOpacity":{"condition":{"test":"datum.value < 0.1 || datum.value > 13.9","value":0},"value":1}}},
  "y":{"field":"e","type":"quantitative","scale":{"domain":[-5,2],"nice":false,"zero":false},
       "axis":{"orient":"left","title":null,"values":[-5,-4,-3,-2,-1,0,1,2],"labelExpr":"'' + datum.value","labelPadding":28,"tickSize":-10,"grid":false}},
  "detail":{"field":"s","type":"nominal"}}},
{"data":{"name":"jumps"},
 "mark":{"type":"line","color":"black","strokeWidth":1.4,"clip":true},
 "encoding":{"x":{"field":"k","type":"quantitative","axis":null},"y":{"field":"e","type":"quantitative","axis":null},"detail":{"field":"s","type":"nominal"}}},
{"data":{"values":[{}]},
 "mark":{"type":"rule","color":"#56b4e9","strokeWidth":1.6},
 "encoding":{
  "x":{"datum":0,"type":"quantitative","axis":{"orient":"top","title":null,"values":[0,1.84,2.14,3.04,4.28,5.98,7.45,8.34,10.39,12.12,13.93],"labels":false,"tickSize":-10,"grid":false}},
  "x2":{"datum":13.93},
  "y":{"datum":0,"type":"quantitative","axis":{"orient":"right","title":null,"values":[-5,-4,-3,-2,-1,0,1,2],"labels":false,"tickSize":-10,"grid":false}}}}
],
"resolve":{"axis":{"x":"independent","y":"independent"}}
}
